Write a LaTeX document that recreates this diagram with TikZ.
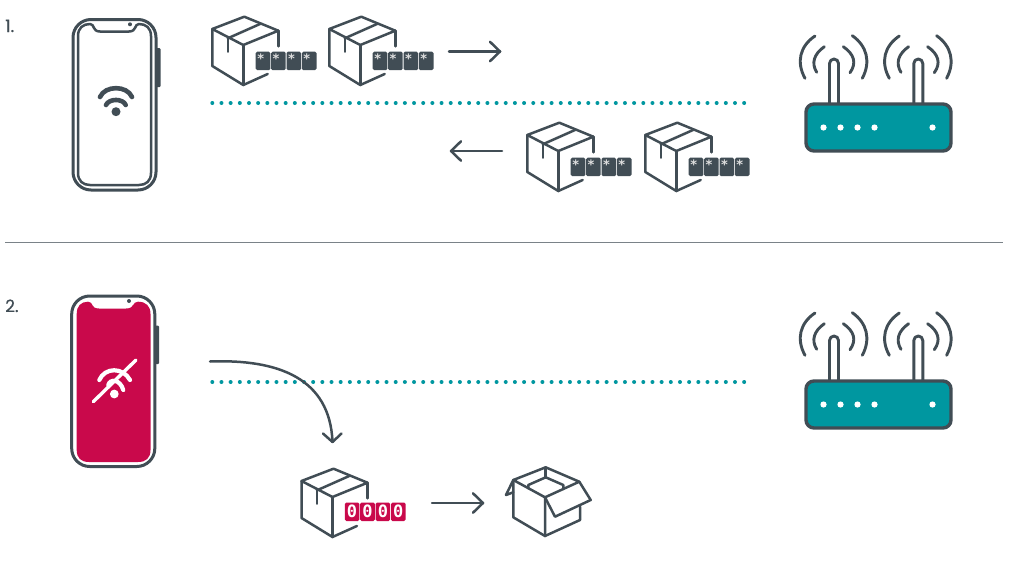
\documentclass[tikz,border=0pt]{standalone}
\usepackage{fontspec}
\setmainfont{Poppins}
\newfontfamily\lblfont[FakeBold=0.5]{Poppins}
\newfontfamily\keyfont{DejaVu Sans Mono}
\definecolor{ink}{HTML}{414D55}
\definecolor{teal1}{HTML}{0097A0}
\definecolor{crim}{HTML}{C9094B}
\tikzset{
 ln/.style={draw=ink,line width=2.5pt,line cap=round,line join=round},
 dots/.style={draw=teal1,line width=4pt,line cap=round,dash pattern=on 0pt off 9.17pt},
 key/.style={rounded corners=1.5pt,fill=ink,draw=none},
 keytxt/.style={text=white!88!black,inner sep=0pt,font=\keyfont\bfseries\fontsize{13}{13}\selectfont},
 lbl/.style={text=ink,inner sep=0pt,anchor=base west,font=\lblfont\fontsize{17}{17}\selectfont},
 pics/boxcore/.style={code={
  \draw[ln] (66,17.3) -- (66,1.7);
  \draw[ln] (0,0) -- (0,37) -- (31,56) -- (55.4,45);
  \draw[ln] (0,0) -- (32,-12.3) -- (66,1.7) -- (31,16) -- cycle;
  \draw[ln] (31,16) -- (31,56);
  \draw[ln] (15.5,9.3) -- (47.7,-5);
  \draw[ln] (15.5,9.3) -- (15.5,22.7);
 }},
 pics/stars/.style={code={
  \foreach \i in {0,1,2,3}{
   \fill[key] (\i*15.4,0) rectangle ++(14.6,18.5);
   \node[keytxt] (star\i) at (\i*15.4+5,6.5) {*};}
 }},
 pics/zeros/.style={code={
  \foreach \i in {0,1,2,3}{
   \fill[crim,rounded corners=1.5pt] (\i*15.4,0) rectangle ++(14.6,18.5);
   \node[keytxt,text=white,font=\keyfont\bfseries\fontsize{17}{17}\selectfont] (zero\i) at (\i*15.4+7.3,9.3) {0};}
 }},
 pics/router/.style={code={
  \foreach \a in {0,84.3}{
   \begin{scope}[xshift=\a pt]
   \draw[ln,line width=2.9pt,rounded corners=4.5pt] (829.5,104) -- (829.5,59) -- (838.5,59) -- (838.5,104);
   \draw[ln,line width=2.9pt] (816.7,72.3) .. controls (811,63) and (814,54) .. (824.3,46.7);
   \draw[ln,line width=2.9pt] (805,78.3) .. controls (796,62) and (800,46) .. (815,36);
   \draw[ln,line width=2.9pt] (850,72.7) .. controls (857,63) and (854,54) .. (843.3,46.7);
   \draw[ln,line width=2.9pt] (862.3,78.3) .. controls (871,62) and (867,46) .. (852.3,35.7);
   \end{scope}}
  \draw[ln,fill=teal1,line width=3.4pt,rounded corners=8pt] (806,104) rectangle (951,151);
  \foreach \x in {823.5,840.5,857.5,874.5,932.5}{\fill[white] (\x,127.5) circle (3.1);}
 }},
 pics/arrowtip/.style={code={\draw[ln] (-10,-9.7) -- (0,0) -- (-10,9.7);}},
}
\begin{document}
\begin{tikzpicture}[x=1pt,y=-1pt]
\useasboundingbox (0,0) rectangle (1009,560);
\fill[white] (0,0) rectangle (1009,560);
% labels
\node[lbl] (n1) at (5,32) {1.};
\node[lbl] (n2) at (5,312) {2.};
\draw[draw=ink!70,line width=0.9pt] (5,242) coordinate (ra) -- (1003,242) coordinate (rb);
% dotted lines
\draw[dots] (212.3,103) coordinate (d1a) -- (748,103) coordinate (d1b);
\draw[dots] (212.3,382) coordinate (d2a) -- (748,382) coordinate (d2b);
% phone 1
\fill[ink,rounded corners=1pt] (155,48) rectangle (160.5,87);
\draw[ln,fill=white,line width=3pt,rounded corners=18pt] (73,19.5) rectangle (156,190);
\draw[ln] (78,36) .. controls (78,28) and (83,24) .. (90,24) .. controls (95,24) and (92,31.5) .. (100,31.5) -- (129,31.5) .. controls (137,31.5) and (134,24) .. (139,24) .. controls (146,24) and (151,28) .. (151,36) -- (151,173) .. controls (151,181) and (146,185) .. (139,185) -- (90,185) .. controls (83,185) and (78,181) .. (78,173) -- cycle;
\fill[ink] (130,24.3) circle (2);
% wifi 1
\fill[ink] (116,111.7) circle (4.5);
\draw[draw=ink,line width=4.6pt,line cap=round] (106,105) .. controls (109,98.3) and (123,98.3) .. (125.7,105);
\draw[draw=ink,line width=4.6pt,line cap=round] (100,97) .. controls (105,85.2) and (127,85.2) .. (132,97);
% boxes row 1
\foreach \bx/\by/\nm in {212.3/29/b1,329.3/29/b2,527.3/135/b3,645.3/135/b4}{
  \pic (\nm) at (\bx pt,-\by pt) {boxcore};
  \pic (\nm k) at (\bx pt+43.4pt,-\by pt-22.7pt) {stars};
}
% arrows row 1
\coordinate (a1s) at (449,51.5); \coordinate (a1e) at (500,51.5);
\draw[ln] (a1s) -- (a1e);
\pic at (a1e) {arrowtip};
\coordinate (a2s) at (502,151); \coordinate (a2e) at (451,151);
\draw[ln] (a2s) -- (a2e);
\pic[xscale=-1] at (a2e) {arrowtip};
% routers
\pic at (0,0) {router};
\pic at (0pt,-277pt) {router};
% phone 2
\fill[ink,rounded corners=1pt] (154,325.7) rectangle (159,364);
\draw[ln,fill=white,line width=3pt,rounded corners=18pt] (71.7,296) rectangle (154.8,466.5);
\fill[crim] (76.7,314) .. controls (76.7,306) and (81,301.7) .. (88,301.7) .. controls (94,301.7) and (90,308.5) .. (99,308.5) -- (126,308.5) .. controls (135,308.5) and (132,301.7) .. (138,301.7) .. controls (146,301.7) and (150.5,306) .. (150.5,314) -- (150.5,450) .. controls (150.5,458) and (146,462) .. (138,462) -- (89,462) .. controls (81,462) and (76.7,458) .. (76.7,450) -- cycle;
\fill[ink] (129,301) circle (2);
% wifi 2
\fill[white] (114.3,394) circle (4.4);
\draw[draw=white,line width=4.2pt,line cap=round] (108.3,385) .. controls (110,378.5) and (120,379) .. (123.3,390);
\draw[draw=white,line width=4.2pt,line cap=round] (99.3,380) .. controls (105,367) and (123,367) .. (130,380);
\draw[draw=white,line width=3.4pt,line cap=round] (93.3,401.7) -- (136,360);
% curved arrow
\coordinate (c1) at (210,361.5); \coordinate (c2) at (332.5,442);
\draw[ln] (c1) .. controls (278,359) and (330,378) .. (c2);
\draw[ln] (323,433.5) -- (c2) -- (341.5,433.5);
% box bottom
\pic (b5) at (301.5pt,-481pt) {boxcore};
\pic (b5k) at (344.8pt,-502.5pt) {zeros};
% arrow bottom
\coordinate (a3s) at (432,503); \coordinate (a3e) at (483,503);
\draw[ln] (a3s) -- (a3e);
\pic at (a3e) {arrowtip};
% open box
\draw[ln] (513.3,480) -- (513.3,517.3) -- (545,536) -- (580,520) -- (580,506.7);
\draw[ln] (545,536) -- (545,497.3) -- (513.3,480) -- (545.7,467.3) -- (579.3,481.7) -- (545,497.3);
\draw[ln] (528.3,488.3) -- (528.3,485) -- (545.7,477.3) -- (563.3,485) -- (563.3,489);
\draw[ln] (545.7,467.3) -- (545.7,477.3);
\draw[ln] (513.3,480) -- (506,495) -- (513.3,492.3);
\draw[ln] (545,497.3) -- (555,516.7) -- (590.7,500) -- (579.3,481.7);
\end{tikzpicture}
\end{document}
